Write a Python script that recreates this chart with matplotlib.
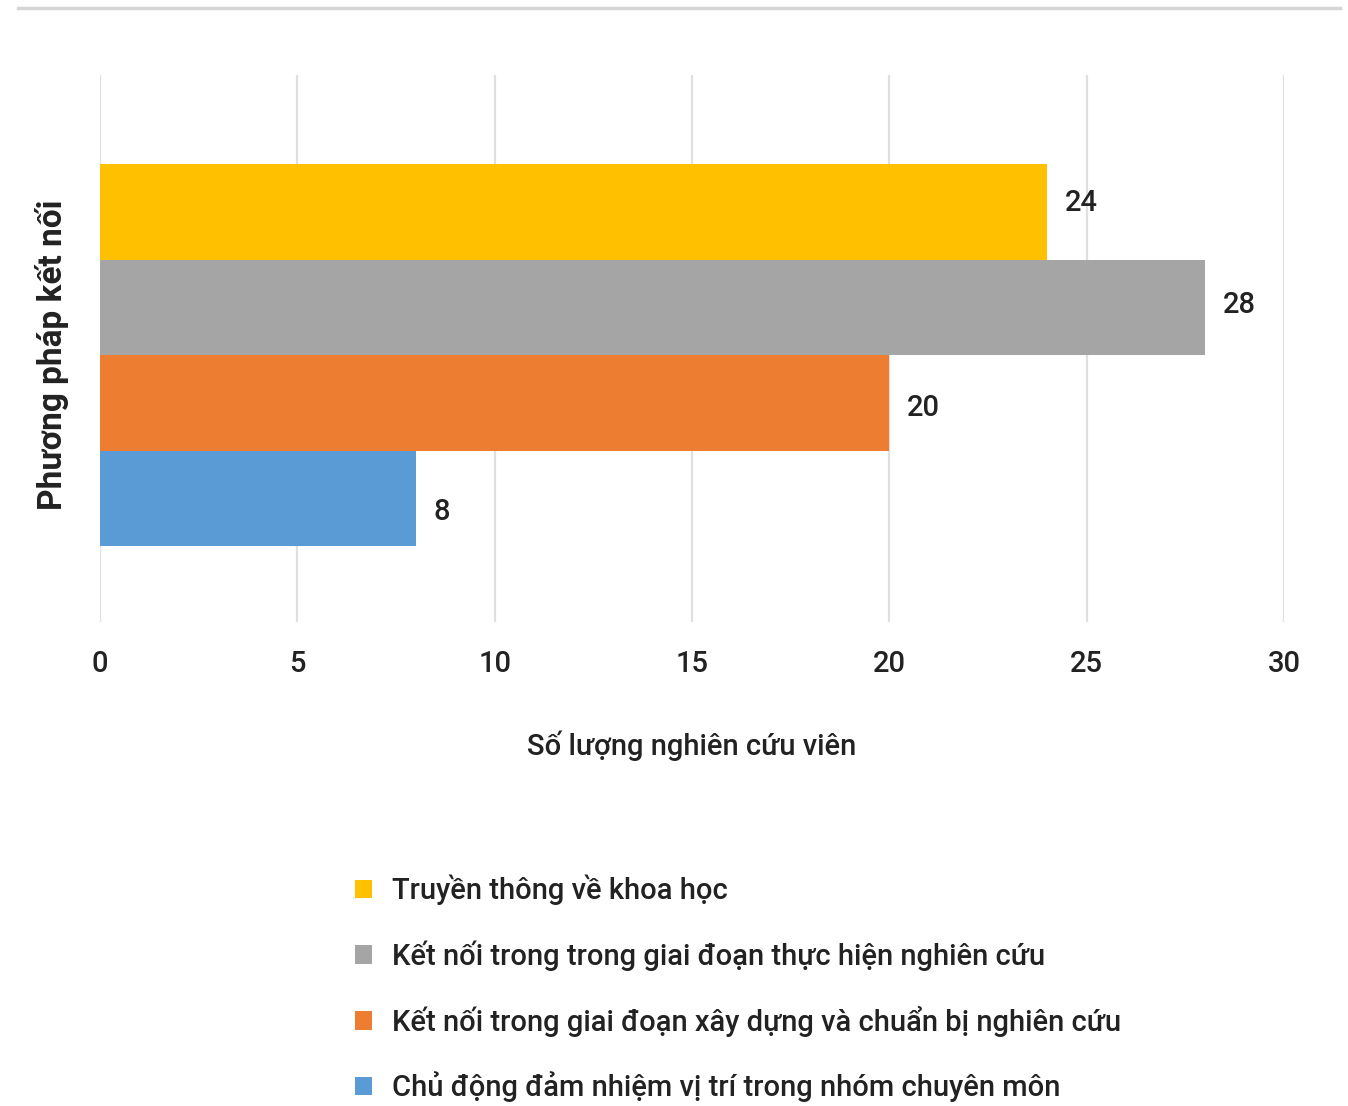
import matplotlib
matplotlib.use("Agg")
import matplotlib.pyplot as plt
from matplotlib.patches import Patch
from matplotlib.lines import Line2D

categories = [
    "Truyền thông về khoa học",
    "Kết nối trong trong giai đoạn thực hiện nghiên cứu",
    "Kết nối trong giai đoạn xây dựng và chuẩn bị nghiên cứu",
    "Chủ động đảm nhiệm vị trí trong nhóm chuyên môn",
]
values = [24, 28, 20, 8]
colors = ["#FFC000", "#A5A5A5", "#ED7D31", "#5B9BD5"]
xticks = [0, 5, 10, 15, 20, 25, 30]

plt.rcParams['font.family'] = ['Roboto', 'DejaVu Sans']

W, H = 1348, 1106
fig = plt.figure(figsize=(W / 100, H / 100), dpi=100)
ax = fig.add_axes([100 / W, 1 - 622 / H, (1284 - 100) / W, (622 - 75) / H])

ypos = [3, 2, 1, 0]
label_shift = [0.09, 0.02, -0.05, -0.14]
ax.barh(ypos, values, height=1.0, color=colors, zorder=3)
for y, v, d in zip(ypos, values, label_shift):
    ax.text(v + 0.45, y + d, str(v), va="center", ha="left", fontsize=21,
            fontweight="medium", color="#222222")

ax.set_xlim(0, 30)
ax.set_ylim(-1.29, 4.43)
ax.set_xticks(xticks)
ax.set_xticklabels([str(t) for t in xticks], fontsize=21, fontweight="medium", color="#222222")
ax.set_yticks([])
ax.tick_params(axis="x", length=0, pad=20)
ax.grid(axis="x", color="#e0e0e0", linewidth=1.6, zorder=0)
for s in ax.spines.values():
    s.set_visible(False)

ax.set_xlabel("Số lượng nghiên cứu viên", fontsize=21, fontweight="medium",
              color="#222222", labelpad=38)
fig.text(52 / W, 1 - 355 / H, "Phương pháp kết nối", rotation=90, ha="center",
         va="center", fontsize=24, fontweight="bold", color="#222222")

# top separator line
fig.add_artist(Line2D([18 / W, 1340 / W], [1 - 8 / H, 1 - 8 / H], color="#d6d6d6",
                      linewidth=2.5, transform=fig.transFigure))

handles = [Patch(facecolor=c, edgecolor="none") for c in colors]
leg = fig.legend(handles, categories, loc="upper left",
                 bbox_to_anchor=(340 / W, 1 - 860 / H), frameon=False,
                 fontsize=21, handlelength=0.6, handleheight=0.6,
                 handletextpad=0.7, labelspacing=1.2, borderpad=0)
for t in leg.get_texts():
    t.set_color("#222222")
    t.set_fontweight("medium")

fig.savefig("out.png", dpi=100, facecolor="white")
